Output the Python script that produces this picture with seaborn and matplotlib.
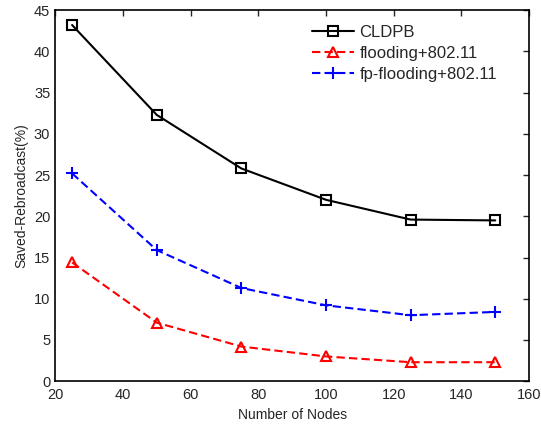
import pandas as pd
import matplotlib
matplotlib.use('Agg')
import matplotlib.pyplot as plt
import seaborn as sns

# Values
nodes = [25, 50, 75, 100, 125, 150]
cldpb = [43.2, 32.3, 25.8, 22.0, 19.6, 19.5]
flooding = [14.4, 7.1, 4.2, 3.0, 2.3, 2.3]
fp_flooding = [25.2, 15.9, 11.3, 9.2, 8.0, 8.4]

series_names = ['CLDPB', 'flooding+802.11', 'fp-flooding+802.11']
colors = ['black', 'red', 'blue']
markers = ['s', '^', '+']
styles = ['-', (0, (4, 2)), (0, (4, 2))]

sns.set_style('white')
plt.rcParams['font.family'] = ['Liberation Sans', 'DejaVu Sans']

df = pd.DataFrame({'nodes': nodes, 'CLDPB': cldpb,
                   'flooding+802.11': flooding,
                   'fp-flooding+802.11': fp_flooding})
long = df.melt(id_vars='nodes', var_name='series', value_name='saved')

fig = plt.figure(figsize=(5.41, 4.24), dpi=100)
ax = fig.add_axes([0.102, 0.101, 0.876, 0.875])

for name, c, m, ls in zip(series_names, colors, markers, styles):
    sub = long[long['series'] == name]
    sns.lineplot(data=sub, x='nodes', y='saved', ax=ax, color=c, marker=m,
                 linestyle=ls, linewidth=1.5, markersize=7 if m != '+' else 8,
                 markerfacecolor='none', markeredgecolor=c, markeredgewidth=1.5,
                 label=name)

ax.set_xlim(20, 160)
ax.set_ylim(0, 45)
ax.set_xticks(range(20, 161, 20))
ax.set_yticks(range(0, 46, 5))
ax.set_xlabel('Number of Nodes', fontsize=10)
ax.set_ylabel('Saved-Rebroadcast(%)', fontsize=10)
ax.tick_params(direction='in', top=True, right=True, length=4, labelsize=10.5,
               width=1)
ax.tick_params(axis='x', pad=5)
for s in ax.spines.values():
    s.set_linewidth(1.2)
    s.set_color('black')

leg = ax.legend(loc='upper left', bbox_to_anchor=(0.51, 1.0), fontsize=12,
                frameon=False, handlelength=2.5, handletextpad=0.35,
                labelspacing=0.35)

fig.savefig('out.png', dpi=100)
